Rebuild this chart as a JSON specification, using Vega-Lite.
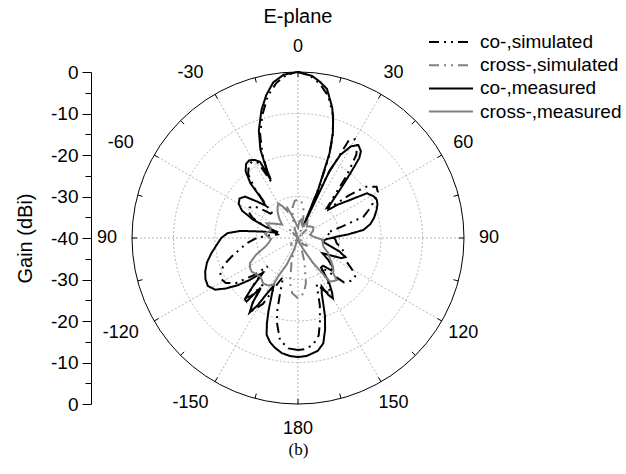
{
  "$schema": "https://vega.github.io/schema/vega-lite/v6.json",
  "width": 332,
  "height": 332,
  "autosize": {"type": "none"},
  "padding": {"left": 132, "top": 72, "right": 162, "bottom": 70},
  "background": "white",
  "config": {"view": {"stroke": null}, "font": "Liberation Sans"},
  "title": {"text": "E-plane", "fontSize": 20, "fontWeight": "normal", "font": "Liberation Sans", "color": "black", "anchor": "middle", "frame": "group", "offset": 5},
  "datasets": {
    "rings": [{"g": -30}, {"g": -20}, {"g": -10}],
    "frame": [{"g": 0}],
    "spokes": [{"a": 0}, {"a": 30}, {"a": 60}, {"a": 90}, {"a": 120}, {"a": 150}, {"a": 180}, {"a": 210}, {"a": 240}, {"a": 270}, {"a": 300}, {"a": 330}],
    "ticks": [{"a": 0}, {"a": 15}, {"a": 30}, {"a": 45}, {"a": 60}, {"a": 75}, {"a": 90}, {"a": 105}, {"a": 120}, {"a": 135}, {"a": 150}, {"a": 165}, {"a": 180}, {"a": 195}, {"a": 210}, {"a": 225}, {"a": 240}, {"a": 255}, {"a": 270}, {"a": 285}, {"a": 300}, {"a": 315}, {"a": 330}, {"a": 345}],
    "angleLabels": [{"a": 0, "t": "0"}, {"a": 30, "t": "30"}, {"a": 60, "t": "60"}, {"a": 90, "t": "90"}, {"a": 120, "t": "120"}, {"a": 150, "t": "150"}, {"a": 180, "t": "180"}, {"a": -150, "t": "-150"}, {"a": -120, "t": "-120"}, {"a": -90, "t": "90"}, {"a": -60, "t": "-60"}, {"a": -30, "t": "-30"}],
    "pattern": [
      {"s": "co-,measured", "a": -180, "g": -11.3}, {"s": "co-,measured", "a": -176, "g": -11.5}, {"s": "co-,measured", "a": -172, "g": -12}, {"s": "co-,measured", "a": -168, "g": -13}, {"s": "co-,measured", "a": -165, "g": -14}, {"s": "co-,measured", "a": -162, "g": -15.5}, {"s": "co-,measured", "a": -160, "g": -18.1}, {"s": "co-,measured", "a": -158, "g": -21}, {"s": "co-,measured", "a": -156, "g": -24}, {"s": "co-,measured", "a": -153, "g": -27}, {"s": "co-,measured", "a": -151, "g": -25}, {"s": "co-,measured", "a": -149, "g": -21}, {"s": "co-,measured", "a": -147, "g": -18.6}, {"s": "co-,measured", "a": -145, "g": -21}, {"s": "co-,measured", "a": -143, "g": -25}, {"s": "co-,measured", "a": -141, "g": -20.3}, {"s": "co-,measured", "a": -139, "g": -20.5}, {"s": "co-,measured", "a": -137, "g": -24}, {"s": "co-,measured", "a": -135, "g": -28}, {"s": "co-,measured", "a": -133, "g": -27}, {"s": "co-,measured", "a": -131, "g": -24.6}, {"s": "co-,measured", "a": -128, "g": -21.5}, {"s": "co-,measured", "a": -125, "g": -18.8}, {"s": "co-,measured", "a": -122, "g": -16.5}, {"s": "co-,measured", "a": -118, "g": -15.4}, {"s": "co-,measured", "a": -114, "g": -15.6}, {"s": "co-,measured", "a": -110, "g": -16.2}, {"s": "co-,measured", "a": -105, "g": -17.3}, {"s": "co-,measured", "a": -100, "g": -18.8}, {"s": "co-,measured", "a": -95, "g": -20.3}, {"s": "co-,measured", "a": -90, "g": -21.5}, {"s": "co-,measured", "a": -86, "g": -23}, {"s": "co-,measured", "a": -83, "g": -26}, {"s": "co-,measured", "a": -80, "g": -31}, {"s": "co-,measured", "a": -77, "g": -34}, {"s": "co-,measured", "a": -74, "g": -35}, {"s": "co-,measured", "a": -71, "g": -32}, {"s": "co-,measured", "a": -68, "g": -28.5}, {"s": "co-,measured", "a": -64, "g": -25}, {"s": "co-,measured", "a": -60, "g": -23.5}, {"s": "co-,measured", "a": -56, "g": -23}, {"s": "co-,measured", "a": -52, "g": -23.8}, {"s": "co-,measured", "a": -48, "g": -27}, {"s": "co-,measured", "a": -45, "g": -29}, {"s": "co-,measured", "a": -42.5, "g": -26.5}, {"s": "co-,measured", "a": -41, "g": -22.5}, {"s": "co-,measured", "a": -38, "g": -19.5}, {"s": "co-,measured", "a": -35, "g": -18.2}, {"s": "co-,measured", "a": -32, "g": -17.9}, {"s": "co-,measured", "a": -29, "g": -18.5}, {"s": "co-,measured", "a": -26.5, "g": -19.5}, {"s": "co-,measured", "a": -25.5, "g": -23.5}, {"s": "co-,measured", "a": -25, "g": -24.5}, {"s": "co-,measured", "a": -24.5, "g": -21.5}, {"s": "co-,measured", "a": -23, "g": -16.8}, {"s": "co-,measured", "a": -20, "g": -12.4}, {"s": "co-,measured", "a": -16, "g": -8.0}, {"s": "co-,measured", "a": -12.5, "g": -4.7}, {"s": "co-,measured", "a": -9, "g": -2.0}, {"s": "co-,measured", "a": -5, "g": -0.5}, {"s": "co-,measured", "a": 0, "g": 0}, {"s": "co-,measured", "a": 5, "g": -0.8}, {"s": "co-,measured", "a": 8, "g": -2.0}, {"s": "co-,measured", "a": 11, "g": -3.4}, {"s": "co-,measured", "a": 14.7, "g": -7.5}, {"s": "co-,measured", "a": 16.5, "g": -10.2}, {"s": "co-,measured", "a": 18.4, "g": -13.4}, {"s": "co-,measured", "a": 20.4, "g": -18.2}, {"s": "co-,measured", "a": 22.7, "g": -27.5}, {"s": "co-,measured", "a": 24, "g": -37}, {"s": "co-,measured", "a": 25.2, "g": -22}, {"s": "co-,measured", "a": 27, "g": -17.5}, {"s": "co-,measured", "a": 30, "g": -14.5}, {"s": "co-,measured", "a": 33, "g": -13.3}, {"s": "co-,measured", "a": 36, "g": -14.2}, {"s": "co-,measured", "a": 37.5, "g": -15.8}, {"s": "co-,measured", "a": 39, "g": -20}, {"s": "co-,measured", "a": 41, "g": -24.6}, {"s": "co-,measured", "a": 44, "g": -29}, {"s": "co-,measured", "a": 47, "g": -30}, {"s": "co-,measured", "a": 50, "g": -27.5}, {"s": "co-,measured", "a": 53.8, "g": -24.5}, {"s": "co-,measured", "a": 57, "g": -20.2}, {"s": "co-,measured", "a": 61, "g": -19.2}, {"s": "co-,measured", "a": 64, "g": -18.9}, {"s": "co-,measured", "a": 67, "g": -19.2}, {"s": "co-,measured", "a": 70.4, "g": -19.9}, {"s": "co-,measured", "a": 75, "g": -21}, {"s": "co-,measured", "a": 79, "g": -22.2}, {"s": "co-,measured", "a": 83, "g": -24.1}, {"s": "co-,measured", "a": 86, "g": -28}, {"s": "co-,measured", "a": 88, "g": -30.7}, {"s": "co-,measured", "a": 92, "g": -33}, {"s": "co-,measured", "a": 96, "g": -34}, {"s": "co-,measured", "a": 100, "g": -33.5}, {"s": "co-,measured", "a": 104, "g": -32}, {"s": "co-,measured", "a": 108, "g": -29.5}, {"s": "co-,measured", "a": 112, "g": -27.7}, {"s": "co-,measured", "a": 115, "g": -28.5}, {"s": "co-,measured", "a": 118, "g": -31}, {"s": "co-,measured", "a": 122, "g": -33}, {"s": "co-,measured", "a": 126, "g": -31}, {"s": "co-,measured", "a": 130, "g": -29}, {"s": "co-,measured", "a": 134, "g": -28.8}, {"s": "co-,measured", "a": 138, "g": -31}, {"s": "co-,measured", "a": 142, "g": -31}, {"s": "co-,measured", "a": 145, "g": -27}, {"s": "co-,measured", "a": 148, "g": -24.5}, {"s": "co-,measured", "a": 150, "g": -23.2}, {"s": "co-,measured", "a": 152, "g": -24.5}, {"s": "co-,measured", "a": 154, "g": -27}, {"s": "co-,measured", "a": 156.8, "g": -25.5}, {"s": "co-,measured", "a": 159, "g": -23}, {"s": "co-,measured", "a": 161, "g": -20}, {"s": "co-,measured", "a": 163.6, "g": -16.9}, {"s": "co-,measured", "a": 166.5, "g": -13.9}, {"s": "co-,measured", "a": 170, "g": -12.4}, {"s": "co-,measured", "a": 175.8, "g": -11.5}, {"s": "co-,measured", "a": 180, "g": -11.3},

      {"s": "co-,simulated", "a": -180, "g": -13}, {"s": "co-,simulated", "a": -175, "g": -13.3}, {"s": "co-,simulated", "a": -170, "g": -15}, {"s": "co-,simulated", "a": -166, "g": -19}, {"s": "co-,simulated", "a": -164, "g": -22}, {"s": "co-,simulated", "a": -162, "g": -26}, {"s": "co-,simulated", "a": -159, "g": -30}, {"s": "co-,simulated", "a": -156, "g": -28}, {"s": "co-,simulated", "a": -152, "g": -22}, {"s": "co-,simulated", "a": -148, "g": -19.5}, {"s": "co-,simulated", "a": -145, "g": -21}, {"s": "co-,simulated", "a": -143, "g": -26}, {"s": "co-,simulated", "a": -141, "g": -22}, {"s": "co-,simulated", "a": -139, "g": -21}, {"s": "co-,simulated", "a": -136, "g": -25}, {"s": "co-,simulated", "a": -133, "g": -30}, {"s": "co-,simulated", "a": -130, "g": -26}, {"s": "co-,simulated", "a": -126, "g": -21.5}, {"s": "co-,simulated", "a": -122, "g": -19.5}, {"s": "co-,simulated", "a": -118, "g": -19}, {"s": "co-,simulated", "a": -114, "g": -19.5}, {"s": "co-,simulated", "a": -110, "g": -21}, {"s": "co-,simulated", "a": -106, "g": -23.2}, {"s": "co-,simulated", "a": -103, "g": -24.8}, {"s": "co-,simulated", "a": -99, "g": -26.5}, {"s": "co-,simulated", "a": -95, "g": -28}, {"s": "co-,simulated", "a": -90, "g": -30}, {"s": "co-,simulated", "a": -85, "g": -33}, {"s": "co-,simulated", "a": -80, "g": -35}, {"s": "co-,simulated", "a": -75, "g": -34}, {"s": "co-,simulated", "a": -70, "g": -31}, {"s": "co-,simulated", "a": -66, "g": -28}, {"s": "co-,simulated", "a": -62, "g": -26.5}, {"s": "co-,simulated", "a": -58, "g": -26.2}, {"s": "co-,simulated", "a": -54, "g": -27}, {"s": "co-,simulated", "a": -50, "g": -30}, {"s": "co-,simulated", "a": -47, "g": -32}, {"s": "co-,simulated", "a": -44, "g": -29}, {"s": "co-,simulated", "a": -41, "g": -24}, {"s": "co-,simulated", "a": -38, "g": -20.5}, {"s": "co-,simulated", "a": -34, "g": -18.8}, {"s": "co-,simulated", "a": -31, "g": -18.5}, {"s": "co-,simulated", "a": -28, "g": -19.5}, {"s": "co-,simulated", "a": -26.5, "g": -23}, {"s": "co-,simulated", "a": -25.5, "g": -25}, {"s": "co-,simulated", "a": -24.5, "g": -22}, {"s": "co-,simulated", "a": -23, "g": -18}, {"s": "co-,simulated", "a": -20, "g": -13.3}, {"s": "co-,simulated", "a": -16, "g": -9}, {"s": "co-,simulated", "a": -12, "g": -5}, {"s": "co-,simulated", "a": -8, "g": -2.3}, {"s": "co-,simulated", "a": -4, "g": -0.6}, {"s": "co-,simulated", "a": 0, "g": 0}, {"s": "co-,simulated", "a": 4, "g": -0.7}, {"s": "co-,simulated", "a": 8, "g": -2.4}, {"s": "co-,simulated", "a": 12, "g": -5}, {"s": "co-,simulated", "a": 16, "g": -9.3}, {"s": "co-,simulated", "a": 19, "g": -14.4}, {"s": "co-,simulated", "a": 21, "g": -19.5}, {"s": "co-,simulated", "a": 22.5, "g": -27}, {"s": "co-,simulated", "a": 23.5, "g": -33}, {"s": "co-,simulated", "a": 25, "g": -23}, {"s": "co-,simulated", "a": 27.5, "g": -13.5}, {"s": "co-,simulated", "a": 30, "g": -12.5}, {"s": "co-,simulated", "a": 32, "g": -13}, {"s": "co-,simulated", "a": 35, "g": -15.5}, {"s": "co-,simulated", "a": 38, "g": -21}, {"s": "co-,simulated", "a": 41, "g": -27}, {"s": "co-,simulated", "a": 44, "g": -30}, {"s": "co-,simulated", "a": 47, "g": -29}, {"s": "co-,simulated", "a": 50, "g": -24}, {"s": "co-,simulated", "a": 53, "g": -19.5}, {"s": "co-,simulated", "a": 56.9, "g": -17.4}, {"s": "co-,simulated", "a": 60, "g": -17.8}, {"s": "co-,simulated", "a": 64, "g": -19.5}, {"s": "co-,simulated", "a": 68, "g": -21.5}, {"s": "co-,simulated", "a": 71.9, "g": -23.4}, {"s": "co-,simulated", "a": 75.5, "g": -29.1}, {"s": "co-,simulated", "a": 80, "g": -33}, {"s": "co-,simulated", "a": 86, "g": -32}, {"s": "co-,simulated", "a": 92, "g": -31}, {"s": "co-,simulated", "a": 97.8, "g": -30.6}, {"s": "co-,simulated", "a": 104, "g": -29}, {"s": "co-,simulated", "a": 110, "g": -28}, {"s": "co-,simulated", "a": 116, "g": -27}, {"s": "co-,simulated", "a": 120, "g": -25}, {"s": "co-,simulated", "a": 124, "g": -23.4}, {"s": "co-,simulated", "a": 129, "g": -23.6}, {"s": "co-,simulated", "a": 134, "g": -24.6}, {"s": "co-,simulated", "a": 138, "g": -29}, {"s": "co-,simulated", "a": 142, "g": -31}, {"s": "co-,simulated", "a": 146, "g": -27}, {"s": "co-,simulated", "a": 150, "g": -24.5}, {"s": "co-,simulated", "a": 154, "g": -26}, {"s": "co-,simulated", "a": 158, "g": -28}, {"s": "co-,simulated", "a": 162, "g": -23}, {"s": "co-,simulated", "a": 165, "g": -19.5}, {"s": "co-,simulated", "a": 168, "g": -16}, {"s": "co-,simulated", "a": 172, "g": -14}, {"s": "co-,simulated", "a": 176, "g": -13.2}, {"s": "co-,simulated", "a": 180, "g": -13},

      {"s": "cross-,measured", "a": -180, "g": -40}, {"s": "cross-,measured", "a": -170, "g": -40}, {"s": "cross-,measured", "a": -162, "g": -37}, {"s": "cross-,measured", "a": -157, "g": -33}, {"s": "cross-,measured", "a": -153, "g": -30}, {"s": "cross-,measured", "a": -152, "g": -27.2}, {"s": "cross-,measured", "a": -148, "g": -26.5}, {"s": "cross-,measured", "a": -142.6, "g": -26.2}, {"s": "cross-,measured", "a": -136, "g": -27}, {"s": "cross-,measured", "a": -130, "g": -26.6}, {"s": "cross-,measured", "a": -126, "g": -26.2}, {"s": "cross-,measured", "a": -122, "g": -26.4}, {"s": "cross-,measured", "a": -117.8, "g": -26.9}, {"s": "cross-,measured", "a": -112, "g": -29}, {"s": "cross-,measured", "a": -106, "g": -31.5}, {"s": "cross-,measured", "a": -102.6, "g": -32.3}, {"s": "cross-,measured", "a": -98, "g": -33}, {"s": "cross-,measured", "a": -92, "g": -33.5}, {"s": "cross-,measured", "a": -86, "g": -32.5}, {"s": "cross-,measured", "a": -82, "g": -32}, {"s": "cross-,measured", "a": -76, "g": -33}, {"s": "cross-,measured", "a": -70, "g": -33}, {"s": "cross-,measured", "a": -64.8, "g": -31.7}, {"s": "cross-,measured", "a": -58, "g": -33.5}, {"s": "cross-,measured", "a": -50, "g": -35}, {"s": "cross-,measured", "a": -44, "g": -33.5}, {"s": "cross-,measured", "a": -38, "g": -32}, {"s": "cross-,measured", "a": -33, "g": -31}, {"s": "cross-,measured", "a": -29.6, "g": -30.4}, {"s": "cross-,measured", "a": -26, "g": -31.5}, {"s": "cross-,measured", "a": -22, "g": -33}, {"s": "cross-,measured", "a": -19.9, "g": -32}, {"s": "cross-,measured", "a": -16, "g": -34}, {"s": "cross-,measured", "a": -10, "g": -36}, {"s": "cross-,measured", "a": -5, "g": -37}, {"s": "cross-,measured", "a": 0, "g": -37.5}, {"s": "cross-,measured", "a": 5, "g": -36}, {"s": "cross-,measured", "a": 10, "g": -35.5}, {"s": "cross-,measured", "a": 15, "g": -36.5}, {"s": "cross-,measured", "a": 22, "g": -37}, {"s": "cross-,measured", "a": 30, "g": -35.5}, {"s": "cross-,measured", "a": 38, "g": -36.5}, {"s": "cross-,measured", "a": 45, "g": -36}, {"s": "cross-,measured", "a": 55, "g": -35.5}, {"s": "cross-,measured", "a": 65, "g": -36}, {"s": "cross-,measured", "a": 75, "g": -37}, {"s": "cross-,measured", "a": 85, "g": -36.3}, {"s": "cross-,measured", "a": 94.5, "g": -33.9}, {"s": "cross-,measured", "a": 100, "g": -34}, {"s": "cross-,measured", "a": 109, "g": -33.5}, {"s": "cross-,measured", "a": 116, "g": -32}, {"s": "cross-,measured", "a": 122, "g": -31}, {"s": "cross-,measured", "a": 128, "g": -29.5}, {"s": "cross-,measured", "a": 132, "g": -28.5}, {"s": "cross-,measured", "a": 135, "g": -28}, {"s": "cross-,measured", "a": 137.3, "g": -26.2}, {"s": "cross-,measured", "a": 140, "g": -26.5}, {"s": "cross-,measured", "a": 143.8, "g": -27}, {"s": "cross-,measured", "a": 148.8, "g": -32.9}, {"s": "cross-,measured", "a": 155, "g": -37}, {"s": "cross-,measured", "a": 165, "g": -39}, {"s": "cross-,measured", "a": 172, "g": -40}, {"s": "cross-,measured", "a": 180, "g": -40},

      {"s": "cross-,simulated", "a": -180, "g": -25.5}, {"s": "cross-,simulated", "a": -174, "g": -26.6}, {"s": "cross-,simulated", "a": -170, "g": -29}, {"s": "cross-,simulated", "a": -165, "g": -34}, {"s": "cross-,simulated", "a": -160, "g": -38}, {"s": "cross-,simulated", "a": -150, "g": -40}, {"s": "cross-,simulated", "a": -140, "g": -38}, {"s": "cross-,simulated", "a": -130, "g": -37}, {"s": "cross-,simulated", "a": -120, "g": -40}, {"s": "cross-,simulated", "a": -100, "g": -42}, {"s": "cross-,simulated", "a": -80, "g": -42}, {"s": "cross-,simulated", "a": -60, "g": -40}, {"s": "cross-,simulated", "a": -45, "g": -37}, {"s": "cross-,simulated", "a": -30, "g": -40}, {"s": "cross-,simulated", "a": -20, "g": -38}, {"s": "cross-,simulated", "a": -15, "g": -35}, {"s": "cross-,simulated", "a": -10, "g": -32.5}, {"s": "cross-,simulated", "a": -5, "g": -31}, {"s": "cross-,simulated", "a": 0, "g": -30.8}, {"s": "cross-,simulated", "a": 5, "g": -31}, {"s": "cross-,simulated", "a": 10, "g": -32.5}, {"s": "cross-,simulated", "a": 15, "g": -35}, {"s": "cross-,simulated", "a": 20, "g": -38}, {"s": "cross-,simulated", "a": 30, "g": -40}, {"s": "cross-,simulated", "a": 45, "g": -37}, {"s": "cross-,simulated", "a": 60, "g": -40}, {"s": "cross-,simulated", "a": 80, "g": -42}, {"s": "cross-,simulated", "a": 100, "g": -42}, {"s": "cross-,simulated", "a": 120, "g": -40}, {"s": "cross-,simulated", "a": 130, "g": -37}, {"s": "cross-,simulated", "a": 140, "g": -38}, {"s": "cross-,simulated", "a": 150, "g": -40}, {"s": "cross-,simulated", "a": 160, "g": -38}, {"s": "cross-,simulated", "a": 165, "g": -34}, {"s": "cross-,simulated", "a": 170, "g": -29}, {"s": "cross-,simulated", "a": 174, "g": -26.6}, {"s": "cross-,simulated", "a": 180, "g": -25.5}
    ]
  },
  "encoding": {
    "x": {"field": "px", "type": "quantitative", "scale": {"domain": [-40, 40], "nice": false, "zero": false},
          "axis": {"title": "(b)", "domain": false, "ticks": false, "labels": false, "grid": false, "titleFont": "Liberation Serif", "titleFontSize": 17, "titleFontWeight": "normal", "titleColor": "black", "titlePadding": 37}},
    "y": {"field": "py", "type": "quantitative", "scale": {"domain": [-40, 40], "nice": false, "zero": false},
          "axis": {"orient": "left", "offset": 41, "values": [-40, -35, -30, -25, -20, -15, -10, -5, 0, 5, 10, 15, 20, 25, 30, 35, 40], "labelExpr": "datum.value % 10 === 0 ? '' + (abs(datum.value) - 40) : ''", "grid": false,
                   "tickSize": {"condition": {"test": "datum.value % 10 === 0", "value": 9}, "value": 6},
                   "tickColor": "black", "domainColor": "black", "labelColor": "black", "labelFontSize": 19, "labelPadding": 4, "labelBound": false, "labelOverlap": false, "title": "Gain (dBi)", "titleFontSize": 20, "titleFontWeight": "normal", "titleColor": "black", "titlePadding": 15}}
  },
  "layer": [
    {
      "data": {"name": "rings"},
      "transform": [
        {"calculate": "datum.g + 40", "as": "r"},
        {"calculate": "0", "as": "px"},
        {"calculate": "0", "as": "py"}
      ],
      "mark": {"type": "point", "shape": "circle", "filled": false, "fill": null, "stroke": "#b5b5b5", "strokeWidth": 1, "strokeDash": [2, 2], "opacity": 1},
      "encoding": {
        "size": {"field": "r", "type": "quantitative", "scale": {"type": "pow", "exponent": 2, "domain": [0, 40], "range": [0, 110224]}, "legend": null}
      }
    },
    {
      "data": {"name": "spokes"},
      "transform": [
        {"calculate": "40 * sin(datum.a * PI / 180)", "as": "px"},
        {"calculate": "40 * cos(datum.a * PI / 180)", "as": "py"},
        {"calculate": "0", "as": "cx"}
      ],
      "mark": {"type": "rule", "stroke": "#b5b5b5", "strokeWidth": 1, "strokeDash": [2, 2]},
      "encoding": {
        "x2": {"field": "cx"},
        "y2": {"field": "cx"}
      }
    },
    {
      "data": {"name": "frame"},
      "transform": [
        {"calculate": "datum.g + 40", "as": "r"},
        {"calculate": "0", "as": "px"},
        {"calculate": "0", "as": "py"}
      ],
      "mark": {"type": "point", "shape": "circle", "filled": false, "fill": null, "stroke": "black", "strokeWidth": 1, "opacity": 1},
      "encoding": {
        "size": {"field": "r", "type": "quantitative", "scale": {"type": "pow", "exponent": 2, "domain": [0, 40], "range": [0, 110224]}, "legend": null}
      }
    },
    {
      "data": {"name": "ticks"},
      "transform": [
        {"calculate": "38.8 * sin(datum.a * PI / 180)", "as": "px"},
        {"calculate": "38.8 * cos(datum.a * PI / 180)", "as": "py"},
        {"calculate": "40 * sin(datum.a * PI / 180)", "as": "px2"},
        {"calculate": "40 * cos(datum.a * PI / 180)", "as": "py2"}
      ],
      "mark": {"type": "rule", "stroke": "black", "strokeWidth": 1},
      "encoding": {
        "x2": {"field": "px2"},
        "y2": {"field": "py2"}
      }
    },
    {
      "data": {"name": "pattern"},
      "transform": [
        {"calculate": "max(datum.g + 40, 0)", "as": "r"},
        {"calculate": "datum.r * sin(datum.a * PI / 180)", "as": "px"},
        {"calculate": "datum.r * cos(datum.a * PI / 180)", "as": "py"}
      ],
      "mark": {"type": "line", "strokeWidth": 2, "interpolate": "linear"},
      "encoding": {
        "order": {"field": "a", "type": "quantitative"},
        "color": {"field": "s", "type": "nominal",
                  "scale": {"domain": ["co-,simulated", "cross-,simulated", "co-,measured", "cross-,measured"], "range": ["#000000", "#808080", "#000000", "#808080"]},
                  "legend": {"title": null, "orient": "none", "legendX": 296, "legendY": -40, "symbolType": "stroke", "symbolSize": 1936, "symbolStrokeWidth": 2, "labelFontSize": 19, "labelColor": "black", "labelOffset": 6, "clipHeight": 20, "rowPadding": 3.2, "padding": 0, "labelLimit": 300}},
        "strokeDash": {"field": "s", "type": "nominal",
                  "scale": {"domain": ["co-,simulated", "cross-,simulated", "co-,measured", "cross-,measured"], "range": [[10, 5, 2, 5, 2, 5], [10, 5, 2, 5, 2, 5], [1, 0], [1, 0]]},
                  "legend": {"title": null, "orient": "none", "legendX": 296, "legendY": -40, "symbolType": "stroke", "symbolSize": 1936, "symbolStrokeWidth": 2, "labelFontSize": 19, "labelColor": "black", "labelOffset": 6, "clipHeight": 20, "rowPadding": 3.2, "padding": 0, "labelLimit": 300}}
      }
    },
    {
      "data": {"name": "angleLabels"},
      "transform": [
        {"calculate": "46 * sin(datum.a * PI / 180)", "as": "px"},
        {"calculate": "46 * cos(datum.a * PI / 180)", "as": "py"},
        {"filter": "indexof(datum.t, '-') != 0"}
      ],
      "mark": {"type": "text", "fontSize": 18, "color": "black", "align": "center", "baseline": "middle"},
      "encoding": {
        "text": {"field": "t"}
      }
    },
    {
      "data": {"name": "angleLabels"},
      "transform": [
        {"calculate": "46 * sin(datum.a * PI / 180)", "as": "px"},
        {"calculate": "46 * cos(datum.a * PI / 180)", "as": "py"},
        {"filter": "indexof(datum.t, '-') == 0"}
      ],
      "mark": {"type": "text", "fontSize": 18, "color": "black", "align": "center", "baseline": "middle", "dx": -12},
      "encoding": {
        "text": {"field": "t"}
      }
    }
  ]
}
